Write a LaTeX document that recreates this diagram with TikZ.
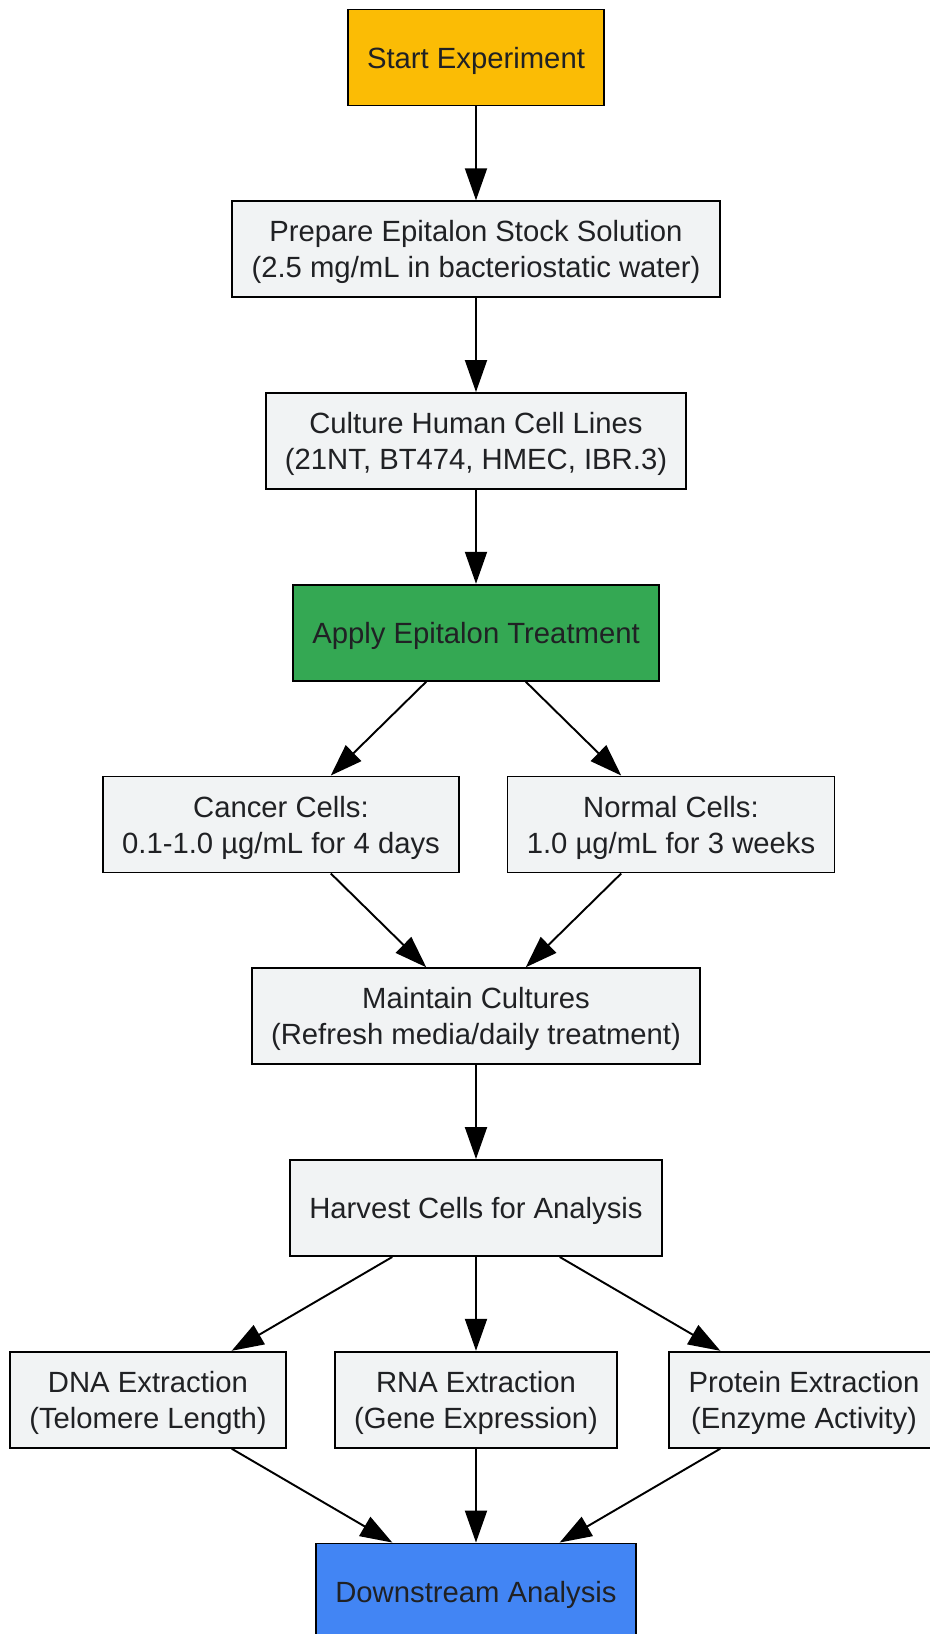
\documentclass[tikz,border=0pt]{standalone}
\usepackage{fontspec}
\setmainfont{Liberation Sans}
\usetikzlibrary{arrows.meta,positioning}
\definecolor{boxgrey}{HTML}{F1F3F4}
\definecolor{startyellow}{HTML}{FBBC05}
\definecolor{treatgreen}{HTML}{34A853}
\definecolor{endblue}{HTML}{4285F4}
\definecolor{txtgrey}{HTML}{202124}

\begin{document}
\begin{tikzpicture}[node distance=3.835cm]
\tikzstyle{procbox}=[draw=black,line width=1.1pt,fill=boxgrey,text=txtgrey,align=center,minimum height=1.92cm,inner xsep=0.385cm,text depth=0pt,font=\fontsize{16.65}{20.4}\selectfont]
\tikzstyle{arrow}=[line width=1.1pt,-{Triangle[length=0.64cm,width=0.44cm]}]
\useasboundingbox (-9.52,1.15) rectangle (9.06,-31.53);
\node [procbox,fill=startyellow] at (0,0) (start) {Start Experiment};
\node [procbox,below of=start] (stock) {Prepare Epitalon Stock Solution\\(2.5 mg/mL in bacteriostatic water)};
\node [procbox,below of=stock] (culture) {Culture Human Cell Lines\\(21NT, BT474, HMEC, IBR.3)};
\node [procbox,fill=treatgreen,below of=culture] (apply) {Apply Epitalon Treatment};
\node [procbox,below of=apply,xshift=-3.9cm] (cancer) {Cancer Cells:\\0.1-1.0 µg/mL for 4 days};
\node [procbox,below of=apply,xshift=3.9cm] (normal) {Normal Cells:\\1.0 µg/mL for 3 weeks};
\node [procbox,below of=apply,node distance=7.67cm] (maintain) {Maintain Cultures\\(Refresh media/daily treatment)};
\node [procbox,below of=maintain] (harvest) {Harvest Cells for Analysis};
\node [procbox,below of=harvest,xshift=-6.56cm] (dna) {DNA Extraction\\(Telomere Length)};
\node [procbox,below of=harvest] (rna) {RNA Extraction\\(Gene Expression)};
\node [procbox,below of=harvest,xshift=6.56cm] (protein) {Protein Extraction\\(Enzyme Activity)};
\node [procbox,fill=endblue,below of=rna] (downstream) {Downstream Analysis};
\draw [arrow] (start) -- (stock);
\draw [arrow] (stock) -- (culture);
\draw [arrow] (culture) -- (apply);
\draw [arrow] (apply) -- (cancer);
\draw [arrow] (apply) -- (normal);
\draw [arrow] (cancer) -- (maintain);
\draw [arrow] (normal) -- (maintain);
\draw [arrow] (maintain) -- (harvest);
\draw [arrow] (harvest) -- (dna);
\draw [arrow] (harvest) -- (rna);
\draw [arrow] (harvest) -- (protein);
\draw [arrow] (dna) -- (downstream);
\draw [arrow] (rna) -- (downstream);
\draw [arrow] (protein) -- (downstream);
\end{tikzpicture}
\end{document}
